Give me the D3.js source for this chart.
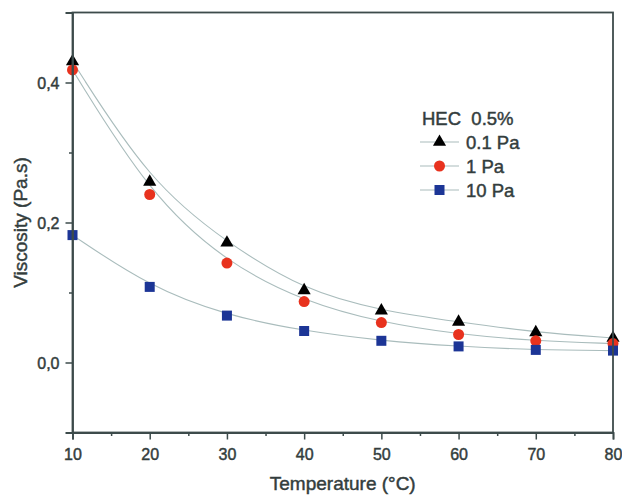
<!DOCTYPE html>
<html><head><meta charset="utf-8">
<script src="https://cdn.jsdelivr.net/npm/d3@7"></script>
<style>body{margin:0;background:#fff}svg{display:block}</style>
</head><body><svg id="c" width="622" height="496"></svg>
<script>
const temps = [10,20,30,40,50,60,70,80];
const pa01 = [0.430,0.258,0.171,0.103,0.074,0.058,0.043,0.035];
const pa1 = [0.418,0.240,0.142,0.087,0.057,0.040,0.031,0.027];
const pa10 = [0.182,0.108,0.067,0.045,0.031,0.023,0.018,0.017];
const xTicks = [10,20,30,40,50,60,70,80];
const yTicks = [0.0,0.2,0.4];
const seriesNames = ["0.1 Pa","1 Pa","10 Pa"];
const legendTitle = "HEC  0.5%";

const svg = d3.select("#c");
const x = d3.scaleLinear().domain([10,80]).range([72.5,613]);
const y = d3.scaleLinear().domain([-0.1,0.5]).range([432.5,12.5]);
const axisColor = "#3d4b4b";
const textColor = "#333d3d";
const font = "Liberation Sans, Arial, sans-serif";

const series = [
  {name:seriesNames[0], vals:pa01, shape:"tri", color:"#000"},
  {name:seriesNames[1], vals:pa1, shape:"circ", color:"#e8321e"},
  {name:seriesNames[2], vals:pa10, shape:"sq", color:"#1c3596"}
];

// fit lines
const line = d3.line().x(d=>x(d[0])).y(d=>y(d[1])).curve(d3.curveBasis);
series.forEach(s=>{
  svg.append("path").attr("d", line(temps.map((t,i)=>[t,s.vals[i]])))
    .attr("fill","none").attr("stroke","#a9bcbc").attr("stroke-width",1.1);
});

function marker(g, shape, color, cx, cy){
  if(shape==="tri"){
    g.append("path").attr("d", d3.symbol().type(d3.symbolTriangle).size(75)())
      .attr("transform",`translate(${cx},${cy})`).attr("fill",color);
  } else if(shape==="circ"){
    g.append("circle").attr("cx",cx).attr("cy",cy).attr("r",5.5).attr("fill",color);
  } else {
    g.append("rect").attr("x",cx-5).attr("y",cy-5).attr("width",10).attr("height",10).attr("fill",color);
  }
}
const mg = svg.append("g");
series.forEach(s=>{
  temps.forEach((t,i)=>marker(mg, s.shape, s.color, x(t), y(s.vals[i])));
});

// frame
const fr = svg.append("g").attr("stroke",axisColor).attr("stroke-width",1.8).attr("fill","none");
fr.append("rect").attr("x",x(10)).attr("y",y(0.5)).attr("width",x(80)-x(10)).attr("height",y(-0.1)-y(0.5));

function styleText(sel, size){
  sel.attr("fill",textColor).attr("stroke",textColor).attr("stroke-width",0.45)
    .style("font-family",font).style("font-size",size+"px").style("font-weight","normal");
}

// x axis
const xa = svg.append("g").attr("transform",`translate(0,${y(-0.1)})`)
  .call(d3.axisBottom(x).tickValues(xTicks).tickSize(7).tickFormat(d3.format("d")));
svg.append("g").attr("transform",`translate(0,${y(-0.1)})`)
  .call(d3.axisBottom(x).tickValues(d3.range(15,80,10)).tickSize(3.5).tickFormat(""))
  .call(g=>g.select(".domain").remove());
// y axis
const ya = svg.append("g").attr("transform",`translate(${x(10)},0)`)
  .call(d3.axisLeft(y).tickValues(yTicks).tickSize(7).tickFormat(d=>d3.format(".1f")(d).replace(".",",")));
svg.append("g").attr("transform",`translate(${x(10)},0)`)
  .call(d3.axisLeft(y).tickValues([-0.1,0.1,0.3]).tickSize(3.5).tickFormat(""))
  .call(g=>g.select(".domain").remove());
svg.selectAll(".domain").attr("stroke",axisColor).attr("stroke-width",1.8);
svg.selectAll(".tick line").attr("stroke",axisColor).attr("stroke-width",1.5);
styleText(svg.selectAll(".tick text"), 16);
xa.selectAll(".tick text").attr("dy",null).attr("y",27);
ya.selectAll(".tick text").attr("x",-13).attr("dy","0.36em");

// axis titles
styleText(svg.append("text").attr("x",(x(10)+x(80))/2).attr("y",490).attr("text-anchor","middle")
  .text("Temperature (°C)"), 19);
styleText(svg.append("text").attr("transform",`translate(27,${(y(-0.1)+y(0.5))/2}) rotate(-90)`).attr("text-anchor","middle")
  .text("Viscosity (Pa.s)"), 19);

// legend
const lg = svg.append("g");
styleText(lg.append("text").attr("x",422).attr("y",125).style("white-space","pre")
  .attr("xml:space","preserve").text(legendTitle), 18.5);
series.forEach((s,i)=>{
  const cy = 142 + i*24;
  lg.append("line").attr("x1",420).attr("x2",459).attr("y1",cy).attr("y2",cy).attr("stroke","#a9bcbc").attr("stroke-width",1.1);
  marker(lg, s.shape, s.color, 439.5, cy);
  styleText(lg.append("text").attr("x",466).attr("y",cy+6.5).text(s.name), 18.5);
});
</script></body></html>
